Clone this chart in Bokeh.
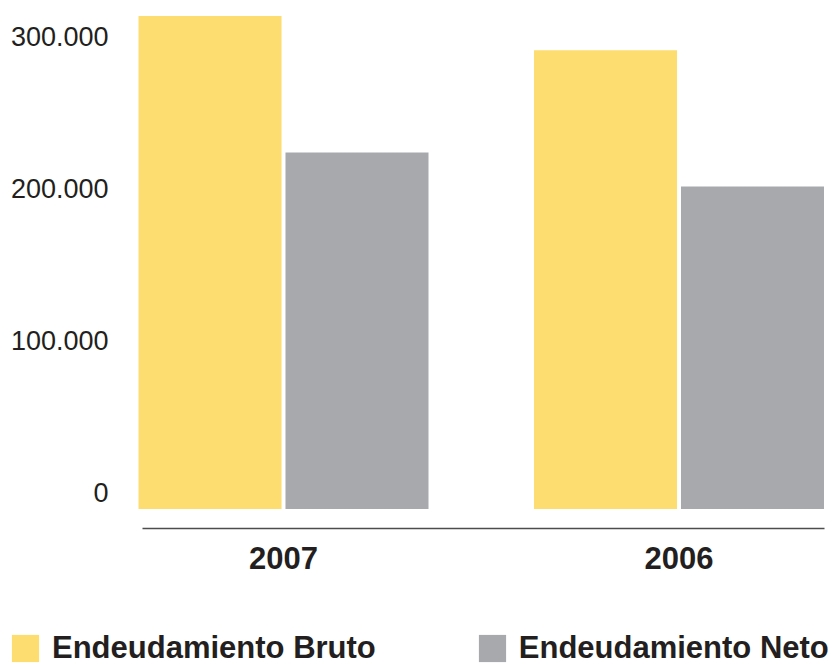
from bokeh.plotting import figure
from bokeh.models import (ColumnDataSource, Range1d, Legend, LegendItem,
                          FixedTicker, LinearAxis)
from bokeh.transform import dodge
from bokeh.embed import file_html
from bokeh.resources import INLINE

years = ["2007", "2006"]
bruto = [318000, 296000]
neto = [230000, 208000]
tick_values = [0, 100000, 200000, 300000]
tick_labels = ["0", "100.000", "200.000", "300.000"]
series_names = ["Endeudamiento Bruto", "Endeudamiento Neto"]
colors = ["#FDDD70", "#A8A9AD"]

FONT = "Liberation Sans"
TEXT = "#231F20"

idx = list(range(len(years)))
src = ColumnDataSource(dict(idx=idx, year=years, bruto=bruto, neto=neto))

p = figure(
    width=832, height=664,
    x_range=Range1d(-0.7156, 1.3881),
    y_range=Range1d(-100323, 328065),
    x_axis_location=None, y_axis_location=None,
    output_backend="svg", toolbar_location=None,
    min_border=0,
)
# the printed tick labels sit on a slightly different scale than the bars
p.extra_y_ranges = {"labels": Range1d(-113149, 323406)}

r1 = p.vbar(x=dodge("idx", -0.1858), top="bruto", width=0.3616,
            source=src, fill_color=colors[0], line_color=None)
r2 = p.vbar(x=dodge("idx", 0.1858), top="neto", width=0.3616,
            source=src, fill_color=colors[1], line_color=None)

p.xgrid.grid_line_color = None
p.ygrid.grid_line_color = None
p.outline_line_color = None

xa = LinearAxis(fixed_location=-12903, bounds=(-0.3565, 1.3679))
xa.ticker = FixedTicker(ticks=idx)
xa.major_label_overrides = {i: y for i, y in zip(idx, years)}
xa.axis_line_color = "#4d4d4d"
xa.axis_line_width = 1.3
xa.major_tick_line_color = None
xa.minor_tick_line_color = None
xa.major_tick_out = 0
xa.major_tick_in = 0
xa.major_label_text_font = FONT
xa.major_label_text_font_size = "31px"
xa.major_label_text_font_style = "bold"
xa.major_label_text_color = TEXT
xa.major_label_standoff = 18
p.add_layout(xa, "below")

ya = LinearAxis(y_range_name="labels", fixed_location=-0.3666)
ya.ticker = FixedTicker(ticks=tick_values)
ya.major_label_overrides = {v: l for v, l in zip(tick_values, tick_labels)}
ya.axis_line_color = None
ya.major_tick_line_color = None
ya.minor_tick_line_color = None
ya.major_tick_out = 0
ya.major_tick_in = 0
ya.major_label_text_font = FONT
ya.major_label_text_font_size = "27px"
ya.major_label_text_color = TEXT
ya.major_label_standoff = 30
p.add_layout(ya, "left")

legend = Legend(
    items=[LegendItem(label=series_names[0], renderers=[r1]),
           LegendItem(label=series_names[1], renderers=[r2])],
    location=(8, -2), orientation="horizontal",
    glyph_width=34, glyph_height=34, label_standoff=10, spacing=99,
    padding=0, margin=0, border_line_color=None, background_fill_alpha=0,
    label_text_font=FONT, label_text_font_size="31px", label_text_font_style="bold",
    label_text_color=TEXT,
)
p.add_layout(legend, "center")

open("out.html", "w").write(file_html(p, INLINE))
